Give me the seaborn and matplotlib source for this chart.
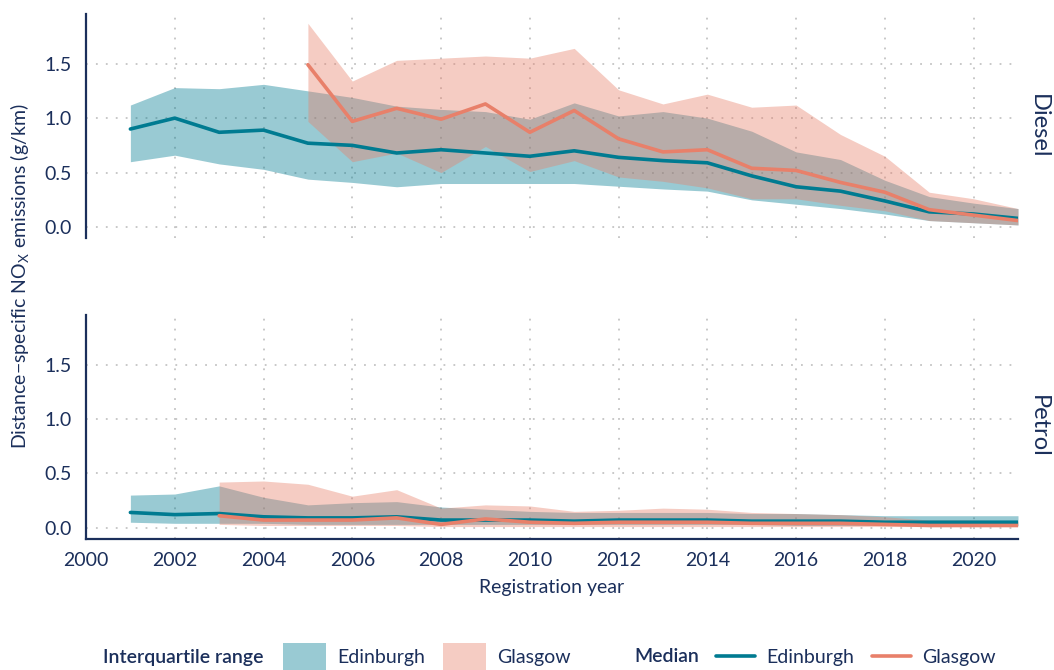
import numpy as np
import pandas as pd
import seaborn as sns
from matplotlib import pyplot as plt
from matplotlib.patches import Patch
from matplotlib.lines import Line2D

sns.set_style('white')
plt.rcParams['font.family'] = ['Lato', 'DejaVu Sans']

NAVY = '#1b2f5b'
TEAL = '#007b91'
CORAL = '#e8806a'

# %%
# data
years_edi = list(range(2001, 2022))
years_gla_diesel = list(range(2005, 2022))
years_gla_petrol = list(range(2003, 2022))

edi_diesel_median = [0.90, 1.00, 0.87, 0.89, 0.77, 0.75, 0.68, 0.71, 0.68, 0.65, 0.70,
                     0.64, 0.61, 0.59, 0.47, 0.37, 0.33, 0.24, 0.14, 0.12, 0.08]
edi_diesel_upper = [1.12, 1.28, 1.27, 1.31, 1.25, 1.19, 1.11, 1.08, 1.06, 0.99, 1.14,
                    1.02, 1.06, 1.00, 0.88, 0.69, 0.62, 0.43, 0.28, 0.22, 0.17]
edi_diesel_lower = [0.60, 0.66, 0.58, 0.53, 0.44, 0.41, 0.37, 0.40, 0.40, 0.40, 0.40,
                    0.375, 0.35, 0.33, 0.25, 0.21, 0.17, 0.12, 0.06, 0.04, 0.02]

gla_diesel_median = [1.49, 0.97, 1.09, 0.99, 1.13, 0.87, 1.07, 0.81, 0.69, 0.71, 0.54,
                     0.52, 0.41, 0.32, 0.16, 0.11, 0.06]
gla_diesel_upper = [1.87, 1.34, 1.53, 1.55, 1.57, 1.55, 1.64, 1.26, 1.13, 1.22, 1.10,
                    1.12, 0.85, 0.65, 0.32, 0.26, 0.17]
gla_diesel_lower = [0.97, 0.60, 0.68, 0.50, 0.74, 0.51, 0.61, 0.46, 0.42, 0.36, 0.26,
                    0.26, 0.20, 0.15, 0.06, 0.04, 0.02]

edi_petrol_median = [0.14, 0.12, 0.13, 0.10, 0.09, 0.09, 0.10, 0.07, 0.07, 0.07, 0.06,
                     0.07, 0.07, 0.07, 0.06, 0.06, 0.06, 0.05, 0.05, 0.05, 0.05]
edi_petrol_upper = [0.30, 0.31, 0.385, 0.28, 0.21, 0.23, 0.24, 0.19, 0.17, 0.15, 0.14,
                    0.14, 0.14, 0.14, 0.13, 0.13, 0.12, 0.11, 0.11, 0.11, 0.11]
edi_petrol_lower = [0.05, 0.04, 0.04, 0.04, 0.03, 0.03, 0.03, 0.03, 0.03, 0.03, 0.03,
                    0.03, 0.03, 0.03, 0.03, 0.02, 0.02, 0.02, 0.02, 0.02, 0.02]

gla_petrol_median = [0.11, 0.07, 0.07, 0.07, 0.09, 0.03, 0.08, 0.05, 0.04, 0.05, 0.05,
                     0.05, 0.04, 0.04, 0.04, 0.03, 0.02, 0.02, 0.02]
gla_petrol_upper = [0.42, 0.43, 0.40, 0.29, 0.35, 0.18, 0.21, 0.20, 0.15, 0.16, 0.18,
                    0.17, 0.14, 0.13, 0.12, 0.10, 0.07, 0.07, 0.06]
gla_petrol_lower = [0.03, 0.02, 0.02, 0.02, 0.02, 0.01, 0.01, 0.01, 0.01, 0.01, 0.01,
                    0.01, 0.01, 0.01, 0.01, 0.01, 0.01, 0.01, 0.01]

fuels = ['Diesel', 'Petrol']
cities = ['Edinburgh', 'Glasgow']
x_ticks = list(range(2000, 2021, 2))
y_ticks = [0.0, 0.5, 1.0, 1.5]


def block(fuel, city, years, med, lo, hi):
    return pd.DataFrame({'fuel': fuel, 'city': city, 'year': years,
                         'median': med, 'lower': lo, 'upper': hi})


emissions = pd.concat([
    block('Diesel', 'Edinburgh', years_edi, edi_diesel_median, edi_diesel_lower, edi_diesel_upper),
    block('Diesel', 'Glasgow', years_gla_diesel, gla_diesel_median, gla_diesel_lower, gla_diesel_upper),
    block('Petrol', 'Edinburgh', years_edi, edi_petrol_median, edi_petrol_lower, edi_petrol_upper),
    block('Petrol', 'Glasgow', years_gla_petrol, gla_petrol_median, gla_petrol_lower, gla_petrol_upper),
], ignore_index=True)

palette = {'Edinburgh': TEAL, 'Glasgow': CORAL}

# %%
fig = plt.figure(figsize=(10.54, 6.70), dpi=100)
W, H = 1054, 670
left, right = 86 / W, 1018 / W
ax_top = fig.add_axes([left, 1 - 238 / H, right - left, (238 - 13.5) / H])
ax_bot = fig.add_axes([left, 1 - 538.5 / H, right - left, (538.5 - 315) / H], sharex=ax_top)

for ax, fuel in zip([ax_top, ax_bot], fuels):
    sub = emissions[emissions['fuel'] == fuel]
    for city in cities:
        d = sub[sub['city'] == city]
        ax.fill_between(d['year'], d['lower'], d['upper'], color=palette[city],
                        alpha=0.4, linewidth=0, zorder=2)
    sns.lineplot(data=sub, x='year', y='median', hue='city', palette=palette,
                 hue_order=cities, linewidth=2.6, legend=False, ax=ax, zorder=3)

    ax.set_xlim(2000, 2021)
    ax.set_ylim(-0.1, 1.96)
    ax.set_yticks(y_ticks)
    ax.set_yticklabels([f'{v:.1f}' for v in y_ticks])
    ax.set_xticks(x_ticks)
    ax.grid(True, color='#c4c4c4', linestyle=(0, (1, 4.5)), linewidth=1.3)
    ax.set_axisbelow(True)
    ax.set_xlabel('')
    ax.set_ylabel('')
    ax.tick_params(length=0, labelsize=14, labelcolor=NAVY, pad=10)
    for s in ['top', 'right', 'bottom']:
        ax.spines[s].set_visible(False)
    ax.spines['left'].set_color(NAVY)
    ax.spines['left'].set_linewidth(1.6)
    ax.text(1.022, 0.5, fuel, transform=ax.transAxes, rotation=-90,
            ha='center', va='center', fontsize=17, color=NAVY)

ax_bot.spines['bottom'].set_visible(True)
ax_bot.spines['bottom'].set_color(NAVY)
ax_bot.spines['bottom'].set_linewidth(1.6)
ax_bot.tick_params(axis='x', pad=10)
plt.setp(ax_top.get_xticklabels(), visible=False)
ax_bot.set_xlabel('Registration year', fontsize=14, color=NAVY, labelpad=7)

fig.text(20 / W, 1 - 276 / H, 'Distance\u2212specific NO$_\\mathregular{X}$ emissions (g/km)',
         rotation=90, ha='center', va='center', fontsize=14, color=NAVY)

# %%
# legend along the bottom
ly = 1 - 657 / H
fig.text(103 / W, ly, 'Interquartile range', ha='left', va='center',
         fontsize=14, color=NAVY, fontweight='semibold')
fig.text(634 / W, ly, 'Median', ha='left', va='center',
         fontsize=14, color=NAVY, fontweight='semibold')

iqr_handles = [Patch(facecolor=palette[c], alpha=0.4, edgecolor='none') for c in cities]
med_handles = [Line2D([], [], color=palette[c], linewidth=2.6) for c in cities]

leg1 = fig.legend(iqr_handles, cities, loc='center left', bbox_to_anchor=(283 / W, ly),
                  ncol=2, frameon=False, fontsize=14, handlelength=2.2, handleheight=1.9,
                  handletextpad=0.6, columnspacing=0.9, borderpad=0, borderaxespad=0,
                  labelcolor=NAVY)
leg2 = fig.legend(med_handles, cities, loc='center left', bbox_to_anchor=(716 / W, ly),
                  ncol=2, frameon=False, fontsize=14, handlelength=2.0,
                  handletextpad=0.6, columnspacing=0.9, borderpad=0, borderaxespad=0,
                  labelcolor=NAVY)

fig.savefig('out.png', dpi=100)
